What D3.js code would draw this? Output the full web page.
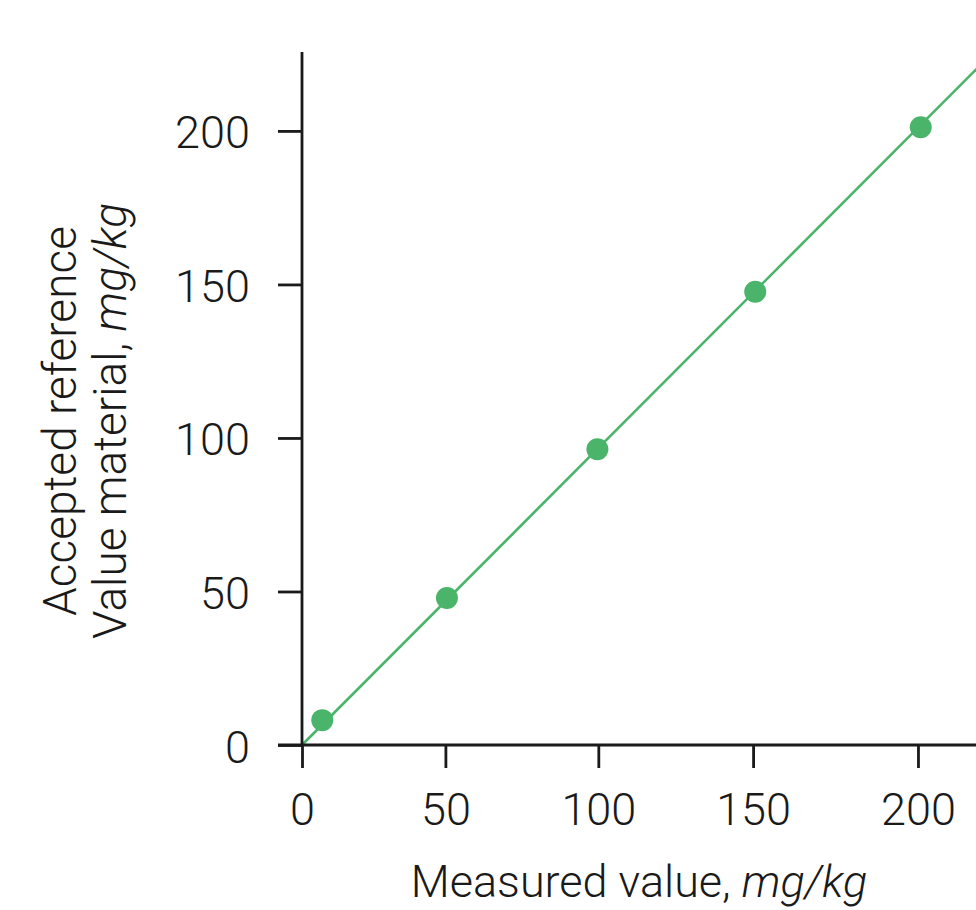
<!DOCTYPE html>
<html>
<head>
<meta charset="utf-8">
<script src="https://cdn.jsdelivr.net/npm/d3@7"></script>
<style>
  html, body { margin: 0; padding: 0; background: #ffffff; }
  svg { display: block; }
  text { font-family: Roboto, "Liberation Sans", Arial, sans-serif; font-weight: 300; fill: #1a1a1a; }
</style>
</head>
<body>
<svg id="chart" width="976" height="910"></svg>
<script>
// ---- data ----
const measured  = [6.6, 47.2, 96.2, 147.6, 201.5];
const reference = [8.1, 47.9, 96.3, 147.6, 201.2];
const fitX = [0, 220];
const fitY = [0, 220.5];
const xTickValues = [0, 46.7, 96.5, 146.9, 200.6];
const xTickLabels = ["0", "50", "100", "150", "200"];
const yTickValues = [0, 50, 100, 150, 200];
const yTickLabels = ["0", "50", "100", "150", "200"];

// ---- layout ----
const svg = d3.select("#chart");
const x = d3.scaleLinear().domain([0, 219.5]).range([302, 976]);
const y = d3.scaleLinear().domain([0, 225.7]).range([745, 52]);
const axisColor = "#1a1a1a";
const green = "#4ab46a";
const fontSize = 45;
const fontFamily = 'Roboto, "Liberation Sans", Arial, sans-serif';

// fitted line
svg.append("path")
  .datum(d3.zip(fitX, fitY))
  .attr("d", d3.line().x(d => x(d[0])).y(d => y(d[1])))
  .attr("stroke", green)
  .attr("stroke-width", 2.6)
  .attr("fill", "none");

// axes
const xAxis = d3.axisBottom(x)
  .tickValues(xTickValues)
  .tickFormat((d, i) => xTickLabels[i])
  .tickSize(23)
  .tickSizeOuter(0)
  .tickPadding(0);
const gx = svg.append("g").attr("transform", `translate(0,${y(0)})`).call(xAxis);
gx.select(".domain").remove();
gx.selectAll(".tick line").attr("stroke", axisColor).attr("stroke-width", 2.8);
gx.selectAll(".tick text")
  .attr("font-size", fontSize)
  .attr("font-family", fontFamily)
  .attr("font-weight", 300)
  .attr("fill", axisColor)
  .attr("dy", null)
  .attr("y", 80);
gx.append("line")
  .attr("x1", x(0) - 24).attr("x2", x.range()[1])
  .attr("y1", 0).attr("y2", 0)
  .attr("stroke", axisColor).attr("stroke-width", 2.8);

const yAxis = d3.axisLeft(y)
  .tickValues(yTickValues)
  .tickFormat((d, i) => yTickLabels[i])
  .tickSize(24)
  .tickSizeOuter(0)
  .tickPadding(28);
const gy = svg.append("g").attr("transform", `translate(${x(0)},0)`).call(yAxis);
gy.select(".domain").remove();
gy.selectAll(".tick line").attr("stroke", axisColor).attr("stroke-width", 2.8);
gy.selectAll(".tick text")
  .attr("font-size", fontSize)
  .attr("font-family", fontFamily)
  .attr("font-weight", 300)
  .attr("fill", axisColor)
  .attr("dy", null)
  .attr("y", 17);
gy.append("line")
  .attr("x1", 0).attr("x2", 0)
  .attr("y1", y.range()[1]).attr("y2", y(0))
  .attr("stroke", axisColor).attr("stroke-width", 2.8);

// points
svg.append("g").selectAll("circle")
  .data(d3.zip(measured, reference))
  .join("circle")
  .attr("cx", d => x(d[0]))
  .attr("cy", d => y(d[1]))
  .attr("r", 11)
  .attr("fill", green);

// x title
const xt = svg.append("text")
  .attr("x", 639).attr("y", 897)
  .attr("text-anchor", "middle")
  .attr("font-size", fontSize);
xt.append("tspan").text("Measured value, ");
xt.append("tspan").attr("font-style", "italic").text("mg/kg");

// y title
const yt = svg.append("g").attr("transform", "translate(0,421) rotate(-90)");
yt.append("text")
  .attr("x", 0).attr("y", 76)
  .attr("text-anchor", "middle")
  .attr("font-size", 46)
  .text("Accepted reference");
const yt2 = yt.append("text")
  .attr("x", 0).attr("y", 126)
  .attr("text-anchor", "middle")
  .attr("font-size", 46);
yt2.append("tspan").text("Value material, ");
yt2.append("tspan").attr("font-style", "italic").text("mg/kg");
</script>
</body>
</html>
